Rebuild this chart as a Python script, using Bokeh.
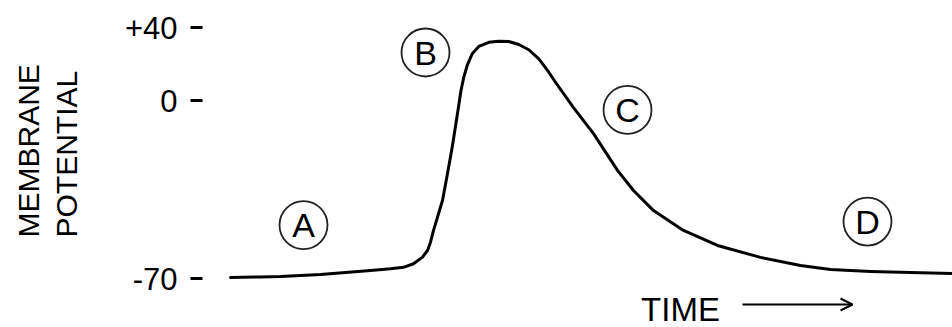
import numpy as np
from bokeh.plotting import figure
from bokeh.models import FixedTicker, Label, Arrow, OpenHead, Range1d, Title
from bokeh.embed import file_html
from bokeh.resources import INLINE
from bokeh.core.properties import value

# ---- data (schematic action potential) ----
time_ms = [0.00, 0.30, 0.50, 0.90, 1.40, 1.60, 1.73, 1.83, 1.92, 1.97, 2.00,
           2.03, 2.07, 2.12, 2.17, 2.22, 2.27, 2.305, 2.333, 2.367, 2.417,
           2.483, 2.583, 2.683, 2.783, 2.883, 2.983, 3.083, 3.183, 3.25,
           3.43, 3.63, 3.87, 4.03, 4.23, 4.53, 4.87, 5.30, 5.70, 6.00, 6.40,
           6.80, 7.22]
potential_mv = [-69.6, -69.4, -69.2, -68.4, -66.9, -66.2, -65.6, -64.2, -61.6,
                -59.0, -55.7, -51.1, -45.9, -39.3, -28.7, -17.7, -5.1, 5.5,
                12.8, 19.2, 25.6, 29.6, 31.9, 32.5, 32.3, 30.7, 27.8, 22.8,
                15.5, 10.0, -2.8, -13.0, -27.5, -35.4, -43.3, -51.1, -57.0,
                -61.7, -64.9, -66.5, -67.2, -67.6, -68.0]
tick_mv = [40, 0, -70]
tick_labels = ["+40", "0", "-70"]
phase_labels = ["A", "B", "C", "D"]
phase_t = [0.73, 1.95, 3.97, 6.37]
phase_mv = [-49.0, 26.3, -3.7, -47.6]

FONT = "Liberation Sans"


# schematic vertical axis: 0..+40 and 0..-70 are drawn at different spacings
def to_axis(v):
    v = np.asarray(v, dtype=float)
    return np.where(v >= 0, v * 73.0 / 40.0, v * 178.0 / 70.0)


p = figure(width=952, height=327, output_backend="svg", toolbar_location=None,
           x_range=Range1d(-0.28, 7.22), y_range=Range1d(-227, 100),
           x_axis_location=None, min_border_left=202, min_border_right=0,
           min_border_top=0, min_border_bottom=0)
p.grid.visible = False
p.outline_line_color = None
p.background_fill_color = "white"
p.border_fill_color = "white"

tick_pos = [int(round(float(t))) for t in to_axis(tick_mv)]
ax = p.yaxis[0]
ax.ticker = FixedTicker(ticks=tick_pos)
ax.major_label_overrides = {tp: lab for tp, lab in zip(tick_pos, tick_labels)}
ax.axis_line_color = None
ax.major_tick_line_width = 3
ax.major_tick_line_color = "black"
ax.major_tick_out = 12
ax.major_tick_in = 0
ax.minor_tick_line_color = None
ax.major_label_standoff = 13
ax.major_label_text_font_size = "31px"
ax.major_label_text_font = FONT
ax.major_label_text_color = "black"
# invisible spacer label: keeps the title a little away from the tick labels
ax.axis_label = " "
ax.axis_label_text_font_size = "1px"
ax.axis_label_standoff = 35

# axis title (two rotated lines, bottom-aligned)
p.add_layout(Title(text="POTENTIAL", align="left", offset=90, standoff=0,
                   text_font_size="30px", text_font=FONT,
                   text_font_style="normal", text_color="black"), "left")
p.add_layout(Title(text="MEMBRANE", align="left", offset=90, standoff=6,
                   text_font_size="30px", text_font=FONT,
                   text_font_style="normal", text_color="black"), "left")

# curve
p.line(time_ms, to_axis(potential_mv), line_width=3, line_color="black",
       line_join="round", line_cap="round")

# circled phase letters
p.scatter(phase_t, to_axis(phase_mv), marker="circle", size=48,
          fill_color=None, line_color="#222222", line_width=1.8)
p.text(phase_t, to_axis(phase_mv), text=phase_labels, text_align="center",
       text_baseline="middle", text_font_size="34px", text_font=value(FONT),
       text_color="black")

# TIME arrow
p.add_layout(Label(x=4.5, y=-208.5, text="TIME", text_align="center",
                   text_baseline="middle", text_font_size="33px",
                   text_font=FONT, text_color="black"))
p.add_layout(Arrow(x_start=5.12, y_start=-204, x_end=6.22, y_end=-204,
                   line_width=2, line_color="black",
                   end=OpenHead(size=12, line_width=2, line_color="black")))

open("out.html", "w").write(file_html(p, INLINE))
